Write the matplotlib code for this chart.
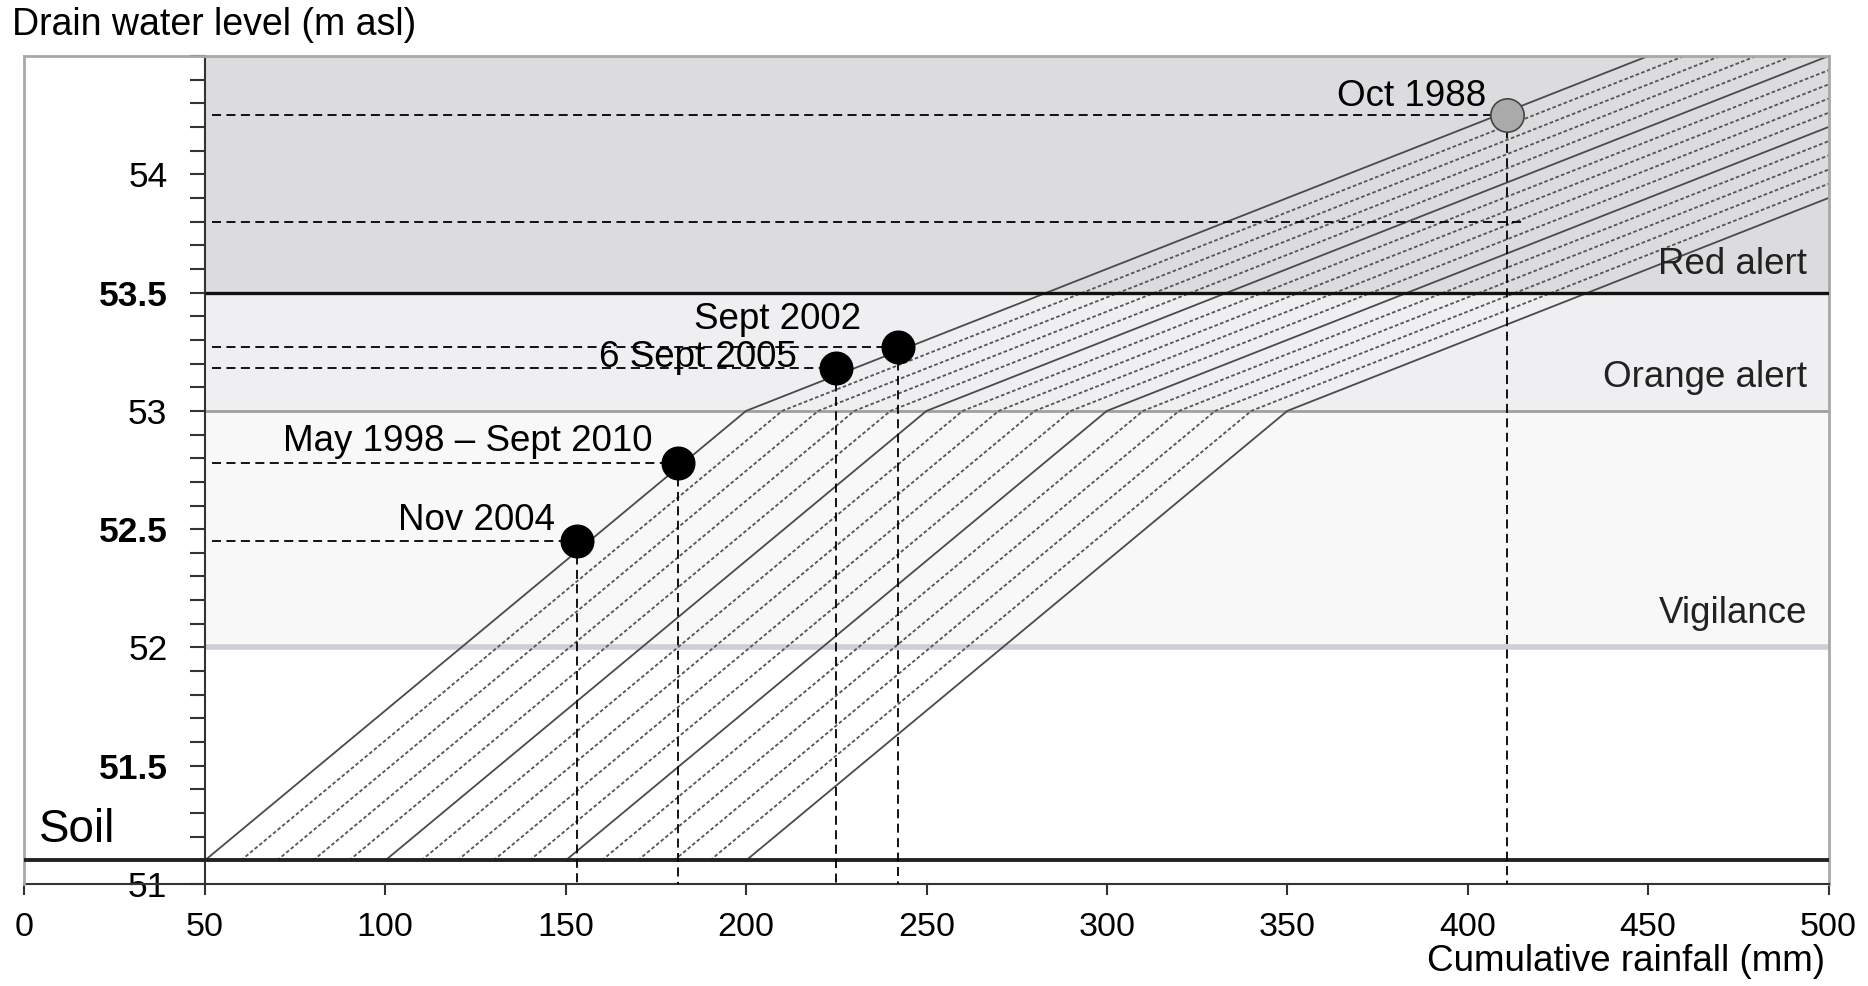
import matplotlib
matplotlib.use("Agg")
import matplotlib.pyplot as plt
from matplotlib.ticker import MultipleLocator, FixedLocator
import numpy as np

plt.rcParams['font.family'] = ['Liberation Sans', 'DejaVu Sans']

# Data
# rainfall at which each response line leaves the soil level (mm)
line_starts = [50, 60, 70, 80, 90, 100, 110, 120, 130, 140, 150, 160, 170, 180, 190, 200]
solid_starts = [50, 100, 150, 200]
# shape of one response line: rainfall offset from its start (mm) -> level (m asl)
shape_offsets = [0, 150, 450]
shape_levels = [51.1, 53.0, 54.8]

soil_level = 51.1
band_names = ["Vigilance", "Orange alert", "Red alert"]
band_bottoms = [52.0, 53.0, 53.5]
band_tops = [53.0, 53.5, 54.5]

event_names = ["Nov 2004", "May 1998 \u2013 Sept 2010", "6 Sept 2005", "Sept 2002", "Oct 1988"]
event_rain = [153, 181, 225, 242, 411]
event_level = [52.45, 52.78, 53.18, 53.27, 54.25]
oct1988_second_level = 53.8

x_ticks = [0, 50, 100, 150, 200, 250, 300, 350, 400, 450, 500]
y_ticks = [51, 51.5, 52, 52.5, 53, 53.5, 54]

# Figure
fig = plt.figure(figsize=(18.68, 9.86), dpi=100)
ax = fig.add_axes([0.0131, 0.1034, 0.9658, 0.8398])
ax.set_xlim(0, 500)
ax.set_ylim(51, 54.5)

# shaded bands
band_colors = ["#f8f8f8", "#efeef1", "#dcdbde"]
for b0, b1, c in zip(band_bottoms, band_tops, band_colors):
    ax.fill_between([50, 500], b0, b1, color=c, lw=0, zorder=0)

# threshold lines
ax.plot([50, 500], [52.0, 52.0], color="#d0ccd8", lw=4.0, zorder=1, solid_capstyle='butt')
ax.plot([50, 500], [53.0, 53.0], color="#a0a0a0", lw=2.0, zorder=1, solid_capstyle='butt')
ax.plot([50, 500], [53.5, 53.5], color="#111111", lw=2.4, zorder=4, solid_capstyle='butt')
ax.plot([0, 500], [soil_level, soil_level], color="#222222", lw=2.8, zorder=4, solid_capstyle='butt')

# response lines
for s in line_starts:
    xs = [s + o for o in shape_offsets]
    if s in solid_starts:
        ax.plot(xs, shape_levels, color="#4a4a4a", lw=1.3, zorder=2)
    else:
        ax.plot(xs, shape_levels, color="#555555", lw=1.3, ls=(0, (2.0, 1.3)), zorder=2)

# event guides
guide = dict(color="black", lw=1.3, ls=(0, (5, 3)), zorder=5)
for r, lv in zip(event_rain, event_level):
    ax.plot([52, r], [lv, lv], **guide)
    ax.plot([r, r], [lv, 51.0], **guide)
ax.plot([52, event_rain[-1] + 4], [oct1988_second_level, oct1988_second_level], **guide)

# event dots
ax.plot(event_rain[:-1], event_level[:-1], 'o', ms=23.5, color="black", zorder=6, clip_on=False)
ax.plot(event_rain[-1], event_level[-1], 'o', ms=24, mfc="#aaaaaa", mec="#444444", mew=1.2, zorder=6)

# event labels (right edge offset, text centre height)
label_dx = [6, 7, 11, 10, 6]
label_y = [52.535, 52.87, 53.225, 53.385, 54.33]
for name, r, dx, ly in zip(event_names, event_rain, label_dx, label_y):
    ax.text(r - dx, ly, name, ha="right", va="center", fontsize=26.5, color="black", zorder=7)

# band labels
band_label_y = [52.145, 53.14, 53.62]
for name, ly in zip(band_names, band_label_y):
    ax.text(494, ly, name, ha="right", va="center", fontsize=26.5, color="#222222", zorder=7)
ax.text(4, 51.23, "Soil", ha="left", va="center", fontsize=33, color="black", zorder=7)

# axes styling
ax.spines['left'].set_position(('data', 50))
ax.spines['left'].set_color("#333333")
ax.spines['left'].set_linewidth(1.5)
ax.spines['bottom'].set_color("#333333")
ax.spines['bottom'].set_linewidth(1.5)
for side in ['top', 'right']:
    ax.spines[side].set_color("#a8a8a8")
    ax.spines[side].set_linewidth(2.0)
ax.plot([0, 0], [51, 54.5], color="#a8a8a8", lw=2.0, zorder=3, clip_on=False)

ax.xaxis.set_major_locator(FixedLocator(x_ticks))
ax.set_xticklabels([str(v) for v in x_ticks], fontsize=24.5)
ax.tick_params(axis='x', direction='out', length=8, width=1.5, color="#333333", pad=12)

ax.yaxis.set_major_locator(FixedLocator(y_ticks))
ax.yaxis.set_minor_locator(MultipleLocator(0.1))
ytl = ax.set_yticklabels([("%g" % v) for v in y_ticks], fontsize=25.5)
for t, v in zip(ytl, y_ticks):
    if abs(v - round(v)) > 0.01:
        t.set_fontweight('bold')
ax.tick_params(axis='y', which='both', direction='out', length=11, width=1.5, color="#333333", pad=16)

# titles
fig.text(12 / 1868, 1 - 25 / 986, "Drain water level (m asl)", ha="left", va="center", fontsize=27)
ax.text(499, -0.094, "Cumulative rainfall (mm)", transform=ax.get_xaxis_transform(),
        ha="right", va="center", fontsize=26.5)

fig.savefig("out.png", dpi=100)
